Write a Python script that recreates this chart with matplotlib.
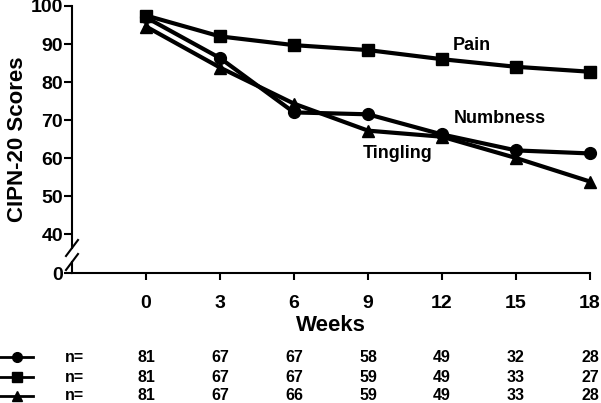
import matplotlib
matplotlib.use("Agg")
import numpy as np
import matplotlib.pyplot as plt
from matplotlib.lines import Line2D
import matplotlib.transforms as mtrans

plt.rcParams["font.family"] = ["Liberation Sans", "DejaVu Sans"]
plt.rcParams["font.weight"] = "bold"

# === Data ===
weeks = [0, 3, 6, 9, 12, 15, 18]
numbness = [97.0, 86.3, 72.0, 71.5, 66.2, 62.0, 61.2]
pain = [97.5, 92.0, 89.7, 88.4, 86.0, 84.0, 82.7]
tingling = [94.6, 83.8, 74.3, 67.2, 65.6, 60.0, 53.8]

n_numbness = [81, 67, 67, 58, 49, 32, 28]
n_pain = [81, 67, 67, 59, 49, 33, 27]
n_tingling = [81, 67, 66, 59, 49, 33, 28]

y_ticks = [0, 40, 50, 60, 70, 80, 90, 100]


# broken axis: 0..40 squeezed into a short piece
def fwd(y):
    y = np.asarray(y, dtype=float)
    return np.where(y >= 40, y, 40 - (40 - y) * 10.26 / 40)


def inv(y):
    y = np.asarray(y, dtype=float)
    return np.where(y >= 40, y, 40 - (40 - y) * 40 / 10.26)


fig = plt.figure(figsize=(6.01, 4.03), dpi=100)
ax = fig.add_axes([72 / 601, 1 - 273 / 403, 518 / 601, 267 / 403])
ax.set_yscale("function", functions=(fwd, inv))

lw = 3
ax.plot(weeks, pain, color="black", lw=lw, marker="s", ms=8, zorder=3, clip_on=False)
ax.plot(weeks, tingling, color="black", lw=lw, marker="^", ms=9, zorder=3, clip_on=False)
ax.plot(weeks, numbness, color="black", lw=lw, marker="o", ms=8.5, zorder=3, clip_on=False)

ax.set_xlim(-3, 18)
ax.set_ylim(0, 100)
ax.set_xticks(weeks)
ax.set_yticks(y_ticks)
ax.set_yticklabels([str(t) for t in y_ticks])

ax.tick_params(axis="y", labelsize=14, width=1.5, length=6, pad=0.5)
ax.tick_params(axis="x", labelsize=14, width=1.5, length=5, pad=11)
for lab in ax.get_xticklabels() + ax.get_yticklabels():
    lab.set_fontweight("bold")

for s in ["top", "right", "left"]:
    ax.spines[s].set_visible(False)
ax.spines["bottom"].set_linewidth(1.5)

# left spine with a gap and two slashes
ta = ax.transAxes
g_top = 25 / 267
g_bot = 11 / 267
ax.plot([0, 0], [g_top, 1], color="black", lw=1.5, transform=ta, clip_on=False)
ax.plot([0, 0], [0, g_bot], color="black", lw=1.5, transform=ta, clip_on=False)
dx, dy = 6 / 518, 8 / 267
for yc in [g_top, g_bot]:
    ax.plot([-dx, dx], [yc - dy, yc + dy], color="black", lw=1.5,
            transform=ta, clip_on=False)

ax.set_xlabel("Weeks", fontsize=16, fontweight="bold", labelpad=2)
ax.set_ylabel("CIPN-20 Scores", fontsize=16, fontweight="bold", labelpad=2)

ax.text(13.2, 89.5, "Pain", fontsize=13, fontweight="bold", ha="center", va="center")
ax.text(14.35, 70.3, "Numbness", fontsize=13, fontweight="bold", ha="center", va="center")
ax.text(10.2, 61.3, "Tingling", fontsize=13, fontweight="bold", ha="center", va="center")

# === n table under the chart ===
tr = mtrans.blended_transform_factory(ax.transData, fig.transFigure)
rows = [("o", n_numbness, 357), ("s", n_pain, 377), ("^", n_tingling, 396)]
for mk, counts, ypx in rows:
    yf = 1 - ypx / 403
    fig.add_artist(Line2D([0, 33 / 601], [yf, yf], color="black", lw=2,
                          transform=fig.transFigure))
    fig.add_artist(Line2D([17 / 601], [yf], color="black", marker=mk, ms=7,
                          transform=fig.transFigure))
    fig.text(74 / 601, yf, "n=", fontsize=11.5, fontweight="bold",
             ha="center", va="center")
    for w, c in zip(weeks, counts):
        ax.text(w, yf, str(c), transform=tr, fontsize=11.5, fontweight="bold",
                ha="center", va="center", clip_on=False)

fig.savefig("out.png", dpi=100)
